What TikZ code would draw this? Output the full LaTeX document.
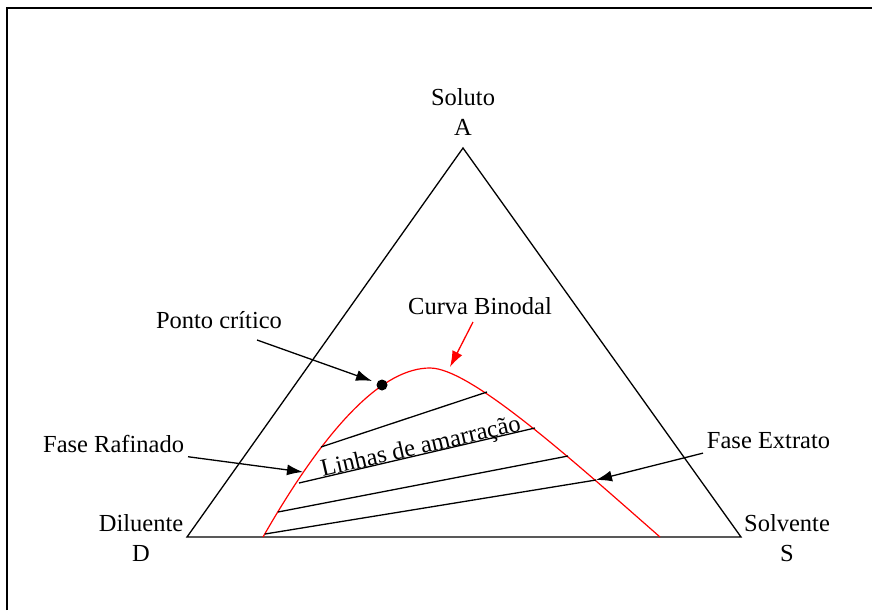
\documentclass[tikz,border=0pt]{standalone}
\usepackage{fontspec}
\setmainfont{Liberation Serif}
\usetikzlibrary{arrows.meta}
\begin{document}
\begin{tikzpicture}[x=1pt,y=-1pt,line width=1.3pt,
	every node/.style={font=\fontsize{24.5}{30}\selectfont},
	seta/.style={-{Latex[length=16pt,width=11pt]}}]
		\useasboundingbox (0,0) rectangle (872,610);
		% frame
		\draw[line width=2.2pt] (7,610) -- (7,8) -- (872,8);
		% triangle
		\coordinate (A) at (463,148);
		\coordinate (D) at (187,537);
		\coordinate (S) at (741,537);
		\draw (A) -- (D) -- (S) -- cycle;
		\node[align=center] (solA) at (463,112) {Soluto\\A};
		\node[align=center] (dilD) at (141,538) {Diluente\\D};
		\node[align=center] (solS) at (787,538) {Solvente\\S};
		% binodal curve
		\draw[red,line width=1.2pt] (263,537) .. controls (330,420) and (385,368) .. (430,368)
			.. controls (470,368) and (570,458) .. (660,537);
		% tie lines
		\draw (321,447) -- (487,392);
		\draw (299,483) -- (535,428);
		\draw (278,512) -- (568,456);
		\draw (265,534) -- (596,480);
		\node[rotate=13] (tie) at (421,448) {Linhas de amarração};
		% critical point
		\fill (382,385) circle (5.5pt);
		\node (pc) at (219,320) {Ponto crítico};
		\coordinate (pcs) at (257,340);
		\coordinate (pct) at (372,381);
		\draw[seta] (pcs) -- (pct);
		% labels
		\node (cb) at (480,306) {Curva Binodal};
		\coordinate (cbs) at (473,322);
		\coordinate (cbt) at (450,367);
		\draw[seta,red] (cbs) -- (cbt);
		\node[anchor=east] (raf) at (188,444) {Fase Rafinado};
		\coordinate (raft) at (303,472);
		\draw[seta] (raf.south east) -- (raft);
		\node[anchor=west] (ext) at (703,441) {Fase Extrato};
		\coordinate (extt) at (596,480);
		\draw[seta] (ext.south west) -- (extt);
\end{tikzpicture}
\end{document}
